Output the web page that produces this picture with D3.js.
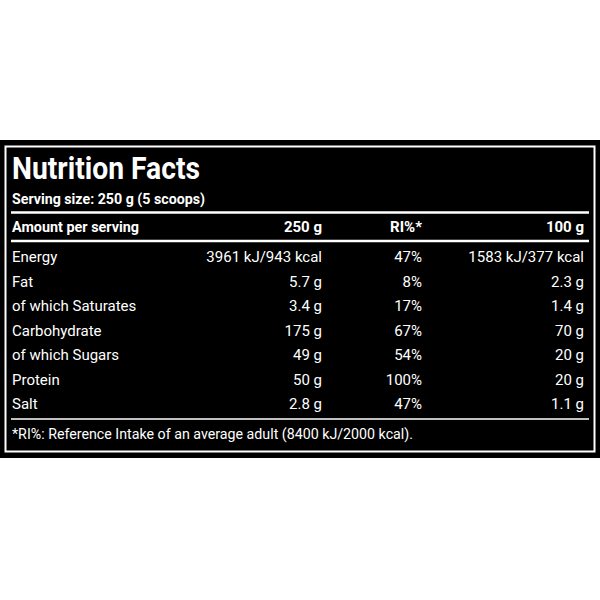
<!DOCTYPE html><html><head><script src="https://cdn.jsdelivr.net/npm/d3@7"></script>
<style>body{margin:0;background:#fff}text{font-family:"Liberation Sans Narrow","Arial Narrow",Roboto,sans-serif;fill:#fff}</style></head><body>
<script>
const title="Nutrition Facts";
const serving="Serving size: 250 g (5 scoops)";
const headers=["Amount per serving","250 g","RI%*","100 g"];
const nutrients=["Energy","Fat","of which Saturates","Carbohydrate","of which Sugars","Protein","Salt"];
const perServing=["3961 kJ/943 kcal","5.7 g","3.4 g","175 g","49 g","50 g","2.8 g"];
const riPct=["47%","8%","17%","67%","54%","100%","47%"];
const per100=["1583 kJ/377 kcal","2.3 g","1.4 g","70 g","20 g","20 g","1.1 g"];
const footnote="*RI%: Reference Intake of an average adult (8400 kJ/2000 kcal).";
const svg=d3.select("body").append("svg").attr("width",600).attr("height",600);
svg.append("rect").attr("x",0).attr("y",140).attr("width",600).attr("height",318).attr("fill","#000");
svg.append("rect").attr("x",5.5).attr("y",146.5).attr("width",589).attr("height",305).attr("fill","none").attr("stroke","#fff").attr("stroke-width",2);
svg.append("text").attr("x",12).attr("y",179).attr("font-size",31).attr("font-weight","bold").attr("textLength",188).attr("lengthAdjust","spacingAndGlyphs").text(title);
svg.append("text").attr("x",12).attr("y",204).attr("font-size",15).attr("font-weight","bold").attr("textLength",193).attr("lengthAdjust","spacingAndGlyphs").text(serving);
const line=(y,w)=>svg.append("line").attr("x1",11).attr("x2",589).attr("y1",y).attr("y2",y).attr("stroke","#fff").attr("stroke-width",w);
line(212.5,2.5);line(241,2.5);line(419,1.5);
const colX=[12,322,422,584];
const y=d3.scalePoint().domain(nutrients).range([262,409]);
const hdr=svg.append("g");
headers.forEach((h,i)=>{const t=hdr.append("text").attr("x",colX[i]).attr("y",232).attr("font-size",15).attr("font-weight","bold").attr("text-anchor",i?"end":"start").text(h);if(!i)t.attr("textLength",127).attr("lengthAdjust","spacingAndGlyphs");});
const cols=[nutrients,perServing,riPct,per100];
cols.forEach((c,i)=>svg.append("g").selectAll("text").data(c).join("text").attr("x",colX[i]).attr("y",(d,j)=>y(nutrients[j])).attr("font-size",15).attr("text-anchor",i?"end":"start").text(d=>d));
svg.append("text").attr("x",12).attr("y",439).attr("font-size",15).attr("textLength",401).attr("lengthAdjust","spacingAndGlyphs").text(footnote);
</script></body></html>
